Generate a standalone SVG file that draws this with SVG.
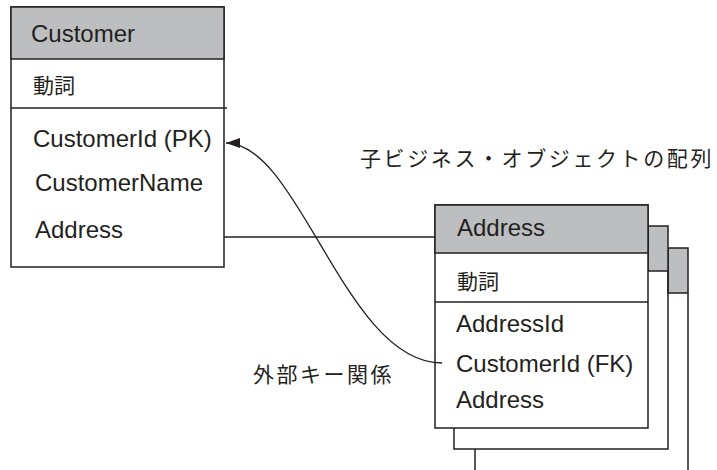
<svg xmlns="http://www.w3.org/2000/svg" width="717" height="470" viewBox="0 0 717 470">
<style>
.box{fill:#fff;stroke:#231f20;stroke-width:1.5}
.hdr{fill:#bcbec0;stroke:#231f20;stroke-width:1.5}
.ln{fill:none;stroke:#231f20;stroke-width:1.5}
.t{font-family:"Liberation Sans","Noto Sans CJK JP",sans-serif;font-size:24px;fill:#231f20}
.j{font-family:"Noto Sans CJK JP",sans-serif;font-size:21px;fill:#231f20}
.conn{fill:none;stroke:#231f20;stroke-width:1.3}
</style>
<defs>
<marker id="ah" viewBox="0 0 14 10" refX="14" refY="5" markerWidth="14" markerHeight="10" markerUnits="userSpaceOnUse" orient="auto">
<path d="M0,0 L14,5 L0,10 Z" fill="#231f20"/>
</marker>
</defs>
<rect width="717" height="470" fill="#fff"/>
<g id="address-stack-back">
<path class="ln" d="M475,470 V449"/>
<rect class="hdr" x="668" y="248" width="20" height="45"/>
<path class="ln" d="M688,293 V470"/>
</g>
<g id="address-stack-middle">
<path class="ln" d="M454,428 V449 H668 V271"/>
<rect class="hdr" x="648" y="226" width="20" height="45"/>
</g>
<g id="customer">
<rect class="box" x="11" y="7" width="213" height="260"/>
<rect class="hdr" x="11" y="7" width="213" height="52"/>
<path class="ln" d="M11,108 H227"/>
<text class="t" x="31" y="42">Customer</text>
<text class="j" x="33" y="93">動詞</text>
<text class="t" x="33" y="147">CustomerId (PK)</text>
<text class="t" x="35" y="191">CustomerName</text>
<text class="t" x="35" y="238">Address</text>
</g>
<g id="address">
<rect class="box" x="435" y="205" width="213" height="223"/>
<rect class="hdr" x="435" y="205" width="213" height="48"/>
<path class="ln" d="M435,302 H648"/>
<text class="t" x="457" y="236">Address</text>
<text class="j" x="457" y="289">動詞</text>
<text class="t" x="456" y="332">AddressId</text>
<text class="t" x="456" y="372">CustomerId (FK)</text>
<text class="t" x="456" y="408">Address</text>
</g>
<g id="connectors">
<path class="conn" d="M224,237 H435"/>
<path class="conn" d="M442,363 C345,363 300,143 226,143" marker-end="url(#ah)"/>
</g>
<g id="labels">
<text class="j" x="360" y="166" letter-spacing="2.6">子ビジネス・オブジェクトの配列</text>
<text class="j" x="253" y="382" letter-spacing="2.5">外部キー関係</text>
</g>
</svg>
